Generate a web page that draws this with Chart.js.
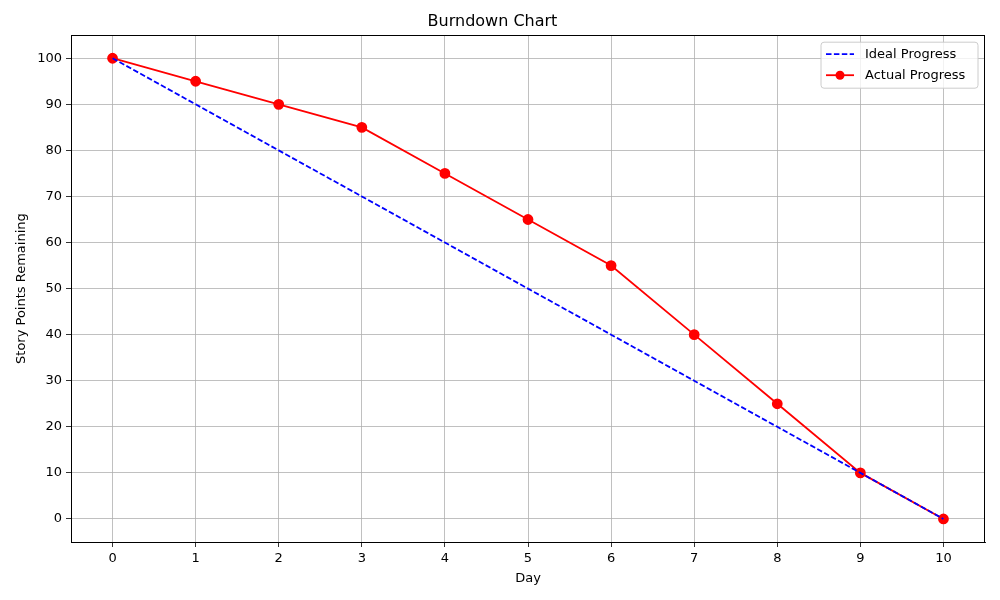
<!DOCTYPE html>
<html>
<head>
<meta charset="utf-8">
<script src="https://cdn.jsdelivr.net/npm/chart.js@4/dist/chart.umd.min.js"></script>
<style>
  html, body { margin: 0; padding: 0; background: #fff; }
  #wrap { width: 1000px; height: 600px; }
</style>
</head>
<body>
<div id="wrap"><canvas id="burn"></canvas></div>
<script>
// ~~ DATA ~~
var days = [0, 1, 2, 3, 4, 5, 6, 7, 8, 9, 10];
var idealPoints = [100, 90, 80, 70, 60, 50, 40, 30, 20, 10, 0];
var actualPoints = [100, 95, 90, 85, 75, 65, 55, 40, 25, 10, 0];
var yTickValues = [0, 10, 20, 30, 40, 50, 60, 70, 80, 90, 100];
var seriesNames = ["Ideal Progress", "Actual Progress"];

var FONT = "'DejaVu Sans', sans-serif";
Chart.defaults.font.family = FONT;
Chart.defaults.color = "#000";

function toXY(xs, ys) {
  var out = [];
  for (var i = 0; i < xs.length; i++) out.push({ x: xs[i], y: ys[i] });
  return out;
}

// full frame round the plot area (top and right too)
var frameBox = {
  id: "frameBox",
  afterDatasetsDraw: function (chart) {
    var ctx = chart.ctx, a = chart.chartArea;
    ctx.save();
    ctx.strokeStyle = "#000";
    ctx.lineWidth = 1;
    ctx.strokeRect(Math.round(a.left) + 0.5, Math.round(a.top) + 0.5,
                   Math.round(a.right - a.left) - 1, Math.round(a.bottom - a.top));
    ctx.restore();
  }
};

// legend box drawn inside the plot area, top right
var innerLegend = {
  id: "innerLegend",
  afterDraw: function (chart) {
    var ctx = chart.ctx, area = chart.chartArea;
    var w = 157, h = 46;
    var x = area.right - 7 - w, y = area.top + 7;
    ctx.save();
    ctx.beginPath();
    ctx.roundRect(x, y, w, h, 3);
    ctx.fillStyle = "rgba(255,255,255,0.8)";
    ctx.fill();
    ctx.strokeStyle = "#cccccc";
    ctx.lineWidth = 1;
    ctx.stroke();
    ctx.font = "13px " + FONT;
    ctx.textBaseline = "middle";
    chart.data.datasets.forEach(function (ds, i) {
      var ly = y + 12 + i * 21;
      ctx.beginPath();
      ctx.setLineDash(ds.borderDash || []);
      ctx.strokeStyle = ds.borderColor;
      ctx.lineWidth = ds.borderWidth;
      ctx.moveTo(x + 5, ly);
      ctx.lineTo(x + 33, ly);
      ctx.stroke();
      ctx.setLineDash([]);
      if (ds.pointRadius > 0) {
        ctx.beginPath();
        ctx.arc(x + 19, ly, ds.pointRadius, 0, Math.PI * 2);
        ctx.fillStyle = ds.pointBackgroundColor;
        ctx.fill();
      }
      ctx.fillStyle = "#000";
      ctx.fillText(ds.label, x + 44, ly);
    });
    ctx.restore();
  }
};

new Chart(document.getElementById("burn"), {
  type: "line",
  data: {
    datasets: [{
      label: seriesNames[0],
      data: toXY(days, idealPoints),
      borderColor: "#0000ff",
      borderWidth: 1.8,
      borderDash: [5.5, 2.4],
      pointRadius: 0,
      fill: false
    }, {
      label: seriesNames[1],
      data: toXY(days, actualPoints),
      borderColor: "#ff0000",
      borderWidth: 1.8,
      pointRadius: 4.5,
      pointBackgroundColor: "#ff0000",
      pointBorderColor: "#ff0000",
      fill: false
    }]
  },
  options: {
    responsive: true,
    maintainAspectRatio: false,
    animation: false,
    layout: { padding: { left: 0, right: 15, top: 0, bottom: 0 } },
    plugins: {
      legend: { display: false },
      tooltip: { enabled: false },
      title: {
        display: true,
        text: "Burndown Chart",
        font: { size: 16, weight: "normal" },
        padding: { top: 12, bottom: 4 }
      }
    },
    scales: {
      x: {
        type: "linear",
        min: -0.5,
        max: 10.5,
        afterBuildTicks: function (s) { s.ticks = days.map(function (d) { return { value: d }; }); },
        afterFit: function (s) { s.height = 58; },
        border: { color: "#000", width: 1 },
        grid: { color: "#b0b0b0", lineWidth: 0.8, tickColor: "#000", tickLength: 5 },
        ticks: { font: { size: 13 }, padding: 4, maxRotation: 0 },
        title: { display: true, text: "Day", font: { size: 13 }, padding: { top: 2, bottom: 14 } }
      },
      y: {
        type: "linear",
        min: -5,
        max: 105,
        afterBuildTicks: function (s) { s.ticks = yTickValues.map(function (v) { return { value: v }; }); },
        afterFit: function (s) { s.width = 71; },
        border: { color: "#000", width: 1 },
        grid: { color: "#b0b0b0", lineWidth: 0.8, tickColor: "#000", tickLength: 5 },
        ticks: { font: { size: 13 }, padding: 4 },
        title: { display: true, text: "Story Points Remaining", font: { size: 13 }, padding: { top: 14, bottom: 6 } }
      }
    }
  },
  plugins: [frameBox, innerLegend]
});
</script>
</body>
</html>
